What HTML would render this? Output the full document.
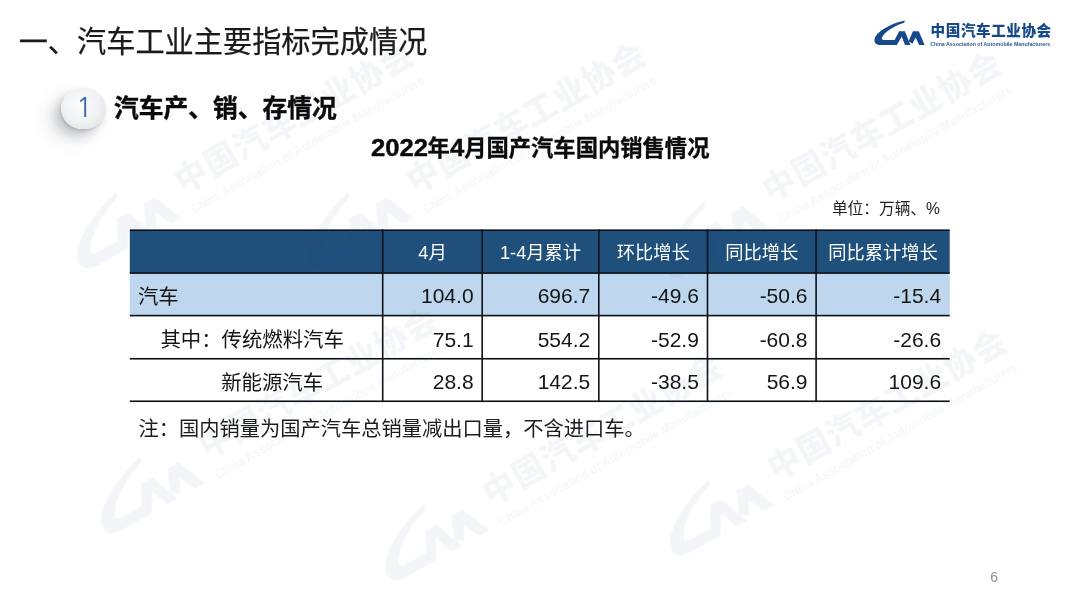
<!DOCTYPE html>
<html lang="zh-CN">
<head>
<meta charset="utf-8">
<title>汽车工业主要指标完成情况</title>
<style>
html,body{margin:0;padding:0;}
body{width:1080px;height:604px;overflow:hidden;background:#fff;position:relative;
  font-family:"Liberation Sans","Noto Sans CJK SC",sans-serif;color:#1a1a1a;}
.abs{position:absolute;white-space:nowrap;line-height:1;}
#title{left:18.7px;top:28px;font-size:29.2px;color:#1b1b1b;font-weight:400;-webkit-text-stroke:.25px #1b1b1b;}
#circle{left:61.2px;top:87.6px;width:44.4px;height:41.6px;border-radius:50%;
  background:radial-gradient(ellipse at 46% 40%,#fcfcfd 0%,#f1f2f4 50%,#dcdde1 100%);
  box-shadow:-12px 10px 20px rgba(70,75,85,.13),-6px 7px 11px rgba(70,75,85,.22),-1px 2px 3px rgba(70,75,85,.18);}
#circle span{position:absolute;left:1px;top:-0.3px;width:44.4px;height:41.6px;line-height:41.6px;text-align:center;
  font-family:"NanumGothic","Liberation Sans",sans-serif;font-weight:400;font-size:27.5px;color:#3a68a2;}
#sub{left:114px;top:97.3px;font-size:24.75px;font-weight:700;color:#0a0a0a;-webkit-text-stroke:.4px #0a0a0a;}
#ttl2{left:0;width:1080px;text-align:center;top:138px;font-size:22.3px;font-weight:700;color:#0a0a0a;-webkit-text-stroke:.35px #0a0a0a;}
#ttl2 .dg{display:inline-block;transform:scale(1.15,1.07);transform-origin:0 82%;}
#unit{right:140px;top:200.8px;font-size:15.7px;color:#222;}
#note{left:138.5px;top:419px;font-size:20.25px;color:#1c1c1c;}
#pg{left:990.2px;top:570.2px;font-size:14px;color:#909090;}
.tbl{position:absolute;left:0;top:0;}
.c{position:absolute;white-space:nowrap;box-sizing:border-box;}
.c.th{color:#fff;text-align:center;font-size:18.25px;padding-top:1.6px;}
.c.lb{font-size:20.4px;color:#141414;padding-top:3.2px;}
.c.nm{font-size:21px;color:#141414;text-align:right;padding-top:2.0px;}
.logo{position:absolute;left:873px;top:18px;width:182px;height:32px;}
.logo .lg{position:absolute;left:0;top:0;overflow:visible;}
.logo .lgcn{position:absolute;left:57.6px;top:5.7px;font-size:14.6px;line-height:1;font-weight:900;color:#15498a;white-space:nowrap;letter-spacing:0.55px;}
.wm{transform-origin:0 0;transform:rotate(-29.5deg) scale(2.22);opacity:.048;filter:blur(.35px);pointer-events:none;}
</style>
</head>
<body>
<div class="abs" id="title">一、汽车工业主要指标完成情况</div>
<div class="logo">
<svg class="lg" width="182" height="32" viewBox="873 18 182 32"><g fill="#15498a"><path d="M904.9 20.5 C894.6 22.4 883 28.2 877.6 33.8 C873.4 38.2 873.5 42.9 877.3 44.5 C878.6 45.05 880 45.1 881.5 45.1 L896.8 45.1 L901.8 36.6 L905 45.1 L910.4 45.1 L904.9 31.2 L899.2 31.2 L894.6 40 L884 40 C881.6 40 881.2 38.8 882.2 37 C885.5 31.4 894 26 904.2 22.8 Z"/><path d="M912.9 31.2 L918.8 31.2 L924.6 45.1 L919.2 45.1 L915.6 37.4 L912.4 43.8 L908.6 41.2 Z"/></g>
<text x="930.2" y="46.4" font-family="Liberation Sans, sans-serif" font-size="5.6" font-weight="700" fill="#2b5a94" textLength="120" lengthAdjust="spacingAndGlyphs">China Association of Automobile Manufacturers</text></svg>
<div class="lgcn">中国汽车工业协会</div>
</div>
<div class="abs" id="circle"><span>1</span></div>
<div class="abs" id="sub">汽车产、销、存情况</div>
<div class="abs" id="ttl2"><span class="dg" style="margin-right:7.4px">2022</span>年<span class="dg" style="margin-right:1.9px">4</span>月国产汽车国内销售情况</div>
<div class="abs" id="unit">单位：万辆、%</div>
<svg class="tbl" width="1080" height="604" viewBox="0 0 1080 604">
<rect x="129.8" y="230.2" width="819.90" height="42.90" fill="#1f4f7b"/>
<rect x="129.8" y="273.1" width="819.90" height="42.50" fill="#bed7ee"/>
<rect x="129.8" y="229.40" width="819.90" height="1.6" fill="#0c1118"/>
<rect x="129.8" y="272.30" width="819.90" height="1.6" fill="#0c1118"/>
<rect x="129.8" y="314.80" width="819.90" height="1.6" fill="#0c1118"/>
<rect x="129.8" y="357.95" width="819.90" height="1.6" fill="#0c1118"/>
<rect x="129.8" y="400.45" width="819.90" height="1.6" fill="#0c1118"/>
<rect x="381.90" y="229.40" width="1.6" height="172.65" fill="#0c1118"/>
<rect x="481.40" y="229.40" width="1.6" height="172.65" fill="#0c1118"/>
<rect x="598.00" y="229.40" width="1.6" height="172.65" fill="#0c1118"/>
<rect x="706.70" y="229.40" width="1.6" height="172.65" fill="#0c1118"/>
<rect x="815.30" y="229.40" width="1.6" height="172.65" fill="#0c1118"/>
</svg>
<div role="table" aria-label="2022年4月国产汽车国内销售情况">
<div role="row">
<div role="columnheader" class="c th" style="left:382.7px;top:230.2px;width:99.5px;height:42.90px;line-height:42.90px">4月</div>
<div role="columnheader" class="c th" style="left:482.2px;top:230.2px;width:116.6px;height:42.90px;line-height:42.90px">1-4月累计</div>
<div role="columnheader" class="c th" style="left:598.8px;top:230.2px;width:108.7px;height:42.90px;line-height:42.90px">环比增长</div>
<div role="columnheader" class="c th" style="left:707.5px;top:230.2px;width:108.6px;height:42.90px;line-height:42.90px">同比增长</div>
<div role="columnheader" class="c th" style="left:816.1px;top:230.2px;width:133.6px;height:42.90px;line-height:42.90px">同比累计增长</div>
</div>
<div role="row">
<div role="rowheader" class="c lb" style="left:137.9px;top:273.1px;height:42.50px;line-height:42.50px">汽车</div>
<div role="cell" class="c nm" style="left:382.7px;top:273.1px;width:90.9px;height:42.50px;line-height:42.50px">104.0</div>
<div role="cell" class="c nm" style="left:482.2px;top:273.1px;width:108.0px;height:42.50px;line-height:42.50px">696.7</div>
<div role="cell" class="c nm" style="left:598.8px;top:273.1px;width:100.1px;height:42.50px;line-height:42.50px">-49.6</div>
<div role="cell" class="c nm" style="left:707.5px;top:273.1px;width:100.0px;height:42.50px;line-height:42.50px">-50.6</div>
<div role="cell" class="c nm" style="left:816.1px;top:273.1px;width:125.0px;height:42.50px;line-height:42.50px">-15.4</div>
</div>
<div role="row">
<div role="rowheader" class="c lb" style="left:160.4px;top:315.6px;height:43.15px;line-height:43.15px">其中：传统燃料汽车</div>
<div role="cell" class="c nm" style="left:382.7px;top:315.6px;width:90.9px;height:43.15px;line-height:43.15px">75.1</div>
<div role="cell" class="c nm" style="left:482.2px;top:315.6px;width:108.0px;height:43.15px;line-height:43.15px">554.2</div>
<div role="cell" class="c nm" style="left:598.8px;top:315.6px;width:100.1px;height:43.15px;line-height:43.15px">-52.9</div>
<div role="cell" class="c nm" style="left:707.5px;top:315.6px;width:100.0px;height:43.15px;line-height:43.15px">-60.8</div>
<div role="cell" class="c nm" style="left:816.1px;top:315.6px;width:125.0px;height:43.15px;line-height:43.15px">-26.6</div>
</div>
<div role="row">
<div role="rowheader" class="c lb" style="left:221.2px;top:358.75px;height:42.50px;line-height:42.50px">新能源汽车</div>
<div role="cell" class="c nm" style="left:382.7px;top:358.75px;width:90.9px;height:42.50px;line-height:42.50px">28.8</div>
<div role="cell" class="c nm" style="left:482.2px;top:358.75px;width:108.0px;height:42.50px;line-height:42.50px">142.5</div>
<div role="cell" class="c nm" style="left:598.8px;top:358.75px;width:100.1px;height:42.50px;line-height:42.50px">-38.5</div>
<div role="cell" class="c nm" style="left:707.5px;top:358.75px;width:100.0px;height:42.50px;line-height:42.50px">56.9</div>
<div role="cell" class="c nm" style="left:816.1px;top:358.75px;width:125.0px;height:42.50px;line-height:42.50px">109.6</div>
</div>
</div>
<div class="abs" id="note">注：国内销量为国产汽车总销量减出口量，不含进口车。</div>
<div class="abs" id="pg">6</div>
<div class="logo wm" style="left:52.2px;top:222px;">
<svg class="lg" width="182" height="32" viewBox="873 18 182 32"><g fill="#15498a"><path d="M904.9 20.5 C894.6 22.4 883 28.2 877.6 33.8 C873.4 38.2 873.5 42.9 877.3 44.5 C878.6 45.05 880 45.1 881.5 45.1 L896.8 45.1 L901.8 36.6 L905 45.1 L910.4 45.1 L904.9 31.2 L899.2 31.2 L894.6 40 L884 40 C881.6 40 881.2 38.8 882.2 37 C885.5 31.4 894 26 904.2 22.8 Z"/><path d="M912.9 31.2 L918.8 31.2 L924.6 45.1 L919.2 45.1 L915.6 37.4 L912.4 43.8 L908.6 41.2 Z"/></g>
<text x="930.2" y="46.4" font-family="Liberation Sans, sans-serif" font-size="5.6" font-weight="700" fill="#2b5a94" textLength="120" lengthAdjust="spacingAndGlyphs">China Association of Automobile Manufacturers</text></svg>
<div class="lgcn">中国汽车工业协会</div>
</div>
<div class="logo wm" style="left:284.2px;top:222px;">
<svg class="lg" width="182" height="32" viewBox="873 18 182 32"><g fill="#15498a"><path d="M904.9 20.5 C894.6 22.4 883 28.2 877.6 33.8 C873.4 38.2 873.5 42.9 877.3 44.5 C878.6 45.05 880 45.1 881.5 45.1 L896.8 45.1 L901.8 36.6 L905 45.1 L910.4 45.1 L904.9 31.2 L899.2 31.2 L894.6 40 L884 40 C881.6 40 881.2 38.8 882.2 37 C885.5 31.4 894 26 904.2 22.8 Z"/><path d="M912.9 31.2 L918.8 31.2 L924.6 45.1 L919.2 45.1 L915.6 37.4 L912.4 43.8 L908.6 41.2 Z"/></g>
<text x="930.2" y="46.4" font-family="Liberation Sans, sans-serif" font-size="5.6" font-weight="700" fill="#2b5a94" textLength="120" lengthAdjust="spacingAndGlyphs">China Association of Automobile Manufacturers</text></svg>
<div class="lgcn">中国汽车工业协会</div>
</div>
<div class="logo wm" style="left:640.2px;top:231px;">
<svg class="lg" width="182" height="32" viewBox="873 18 182 32"><g fill="#15498a"><path d="M904.9 20.5 C894.6 22.4 883 28.2 877.6 33.8 C873.4 38.2 873.5 42.9 877.3 44.5 C878.6 45.05 880 45.1 881.5 45.1 L896.8 45.1 L901.8 36.6 L905 45.1 L910.4 45.1 L904.9 31.2 L899.2 31.2 L894.6 40 L884 40 C881.6 40 881.2 38.8 882.2 37 C885.5 31.4 894 26 904.2 22.8 Z"/><path d="M912.9 31.2 L918.8 31.2 L924.6 45.1 L919.2 45.1 L915.6 37.4 L912.4 43.8 L908.6 41.2 Z"/></g>
<text x="930.2" y="46.4" font-family="Liberation Sans, sans-serif" font-size="5.6" font-weight="700" fill="#2b5a94" textLength="120" lengthAdjust="spacingAndGlyphs">China Association of Automobile Manufacturers</text></svg>
<div class="lgcn">中国汽车工业协会</div>
</div>
<div class="logo wm" style="left:75.5px;top:487px;">
<svg class="lg" width="182" height="32" viewBox="873 18 182 32"><g fill="#15498a"><path d="M904.9 20.5 C894.6 22.4 883 28.2 877.6 33.8 C873.4 38.2 873.5 42.9 877.3 44.5 C878.6 45.05 880 45.1 881.5 45.1 L896.8 45.1 L901.8 36.6 L905 45.1 L910.4 45.1 L904.9 31.2 L899.2 31.2 L894.6 40 L884 40 C881.6 40 881.2 38.8 882.2 37 C885.5 31.4 894 26 904.2 22.8 Z"/><path d="M912.9 31.2 L918.8 31.2 L924.6 45.1 L919.2 45.1 L915.6 37.4 L912.4 43.8 L908.6 41.2 Z"/></g>
<text x="930.2" y="46.4" font-family="Liberation Sans, sans-serif" font-size="5.6" font-weight="700" fill="#2b5a94" textLength="120" lengthAdjust="spacingAndGlyphs">China Association of Automobile Manufacturers</text></svg>
<div class="lgcn">中国汽车工业协会</div>
</div>
<div class="logo wm" style="left:359.7px;top:533.6px;">
<svg class="lg" width="182" height="32" viewBox="873 18 182 32"><g fill="#15498a"><path d="M904.9 20.5 C894.6 22.4 883 28.2 877.6 33.8 C873.4 38.2 873.5 42.9 877.3 44.5 C878.6 45.05 880 45.1 881.5 45.1 L896.8 45.1 L901.8 36.6 L905 45.1 L910.4 45.1 L904.9 31.2 L899.2 31.2 L894.6 40 L884 40 C881.6 40 881.2 38.8 882.2 37 C885.5 31.4 894 26 904.2 22.8 Z"/><path d="M912.9 31.2 L918.8 31.2 L924.6 45.1 L919.2 45.1 L915.6 37.4 L912.4 43.8 L908.6 41.2 Z"/></g>
<text x="930.2" y="46.4" font-family="Liberation Sans, sans-serif" font-size="5.6" font-weight="700" fill="#2b5a94" textLength="120" lengthAdjust="spacingAndGlyphs">China Association of Automobile Manufacturers</text></svg>
<div class="lgcn">中国汽车工业协会</div>
</div>
<div class="logo wm" style="left:645.4px;top:508.5px;">
<svg class="lg" width="182" height="32" viewBox="873 18 182 32"><g fill="#15498a"><path d="M904.9 20.5 C894.6 22.4 883 28.2 877.6 33.8 C873.4 38.2 873.5 42.9 877.3 44.5 C878.6 45.05 880 45.1 881.5 45.1 L896.8 45.1 L901.8 36.6 L905 45.1 L910.4 45.1 L904.9 31.2 L899.2 31.2 L894.6 40 L884 40 C881.6 40 881.2 38.8 882.2 37 C885.5 31.4 894 26 904.2 22.8 Z"/><path d="M912.9 31.2 L918.8 31.2 L924.6 45.1 L919.2 45.1 L915.6 37.4 L912.4 43.8 L908.6 41.2 Z"/></g>
<text x="930.2" y="46.4" font-family="Liberation Sans, sans-serif" font-size="5.6" font-weight="700" fill="#2b5a94" textLength="120" lengthAdjust="spacingAndGlyphs">China Association of Automobile Manufacturers</text></svg>
<div class="lgcn">中国汽车工业协会</div>
</div>
</body>
</html>
